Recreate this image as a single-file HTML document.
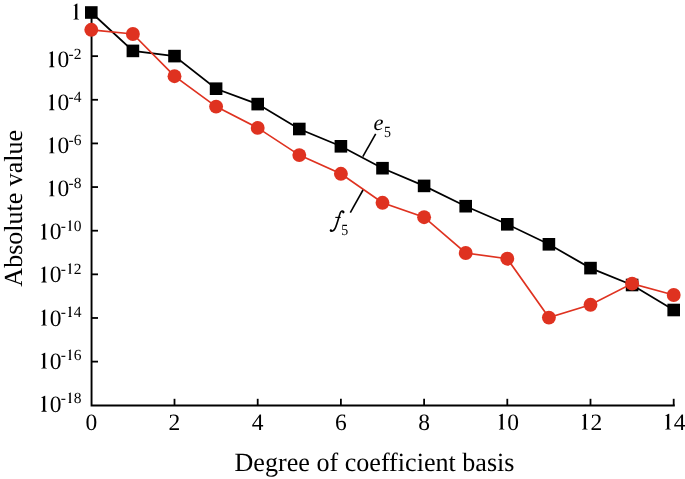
<!DOCTYPE html>
<html><head><meta charset="utf-8"><style>
html,body{margin:0;padding:0;background:#fff;}
svg{display:block;will-change:transform;}
text{font-family:"Liberation Serif",serif;fill:#000;font-variant-ligatures:none;text-rendering:geometricPrecision;}
.t{font-size:23.5px;}
.s{font-size:15.5px;}
.i{font-style:italic;font-size:22.5px;}
.a{font-size:26px;}
</style></head><body>
<svg width="685" height="479" viewBox="0 0 685 479">
<defs><path id="one" d="M7.3 -15.9L7.3 -1.6C7.3 -0.8 7.7 -0.55 8.8 -0.5L8.8 0L3.4 0L3.4 -0.5C4.5 -0.55 5 -0.8 5 -1.6L5 -13C5 -13.6 4.8 -13.9 4.4 -13.9C4.1 -13.9 3.8 -13.8 3.45 -13.7L3.35 -14.1L6.9 -15.9Z"/></defs>
<path d="M91.55 12.5V405.45H674.8" fill="none" stroke="#000" stroke-width="1.9"/>
<line x1="174.5" y1="405.45" x2="174.5" y2="398.8" stroke="#000" stroke-width="1.8"/>
<line x1="257.7" y1="405.45" x2="257.7" y2="398.8" stroke="#000" stroke-width="1.8"/>
<line x1="340.9" y1="405.45" x2="340.9" y2="398.8" stroke="#000" stroke-width="1.8"/>
<line x1="424.1" y1="405.45" x2="424.1" y2="398.8" stroke="#000" stroke-width="1.8"/>
<line x1="507.3" y1="405.45" x2="507.3" y2="398.8" stroke="#000" stroke-width="1.8"/>
<line x1="590.5" y1="405.45" x2="590.5" y2="398.8" stroke="#000" stroke-width="1.8"/>
<line x1="673.7" y1="405.45" x2="673.7" y2="398.8" stroke="#000" stroke-width="1.8"/>
<line x1="91.55" y1="56.14" x2="98" y2="56.14" stroke="#000" stroke-width="1.8"/>
<line x1="91.55" y1="99.78" x2="98" y2="99.78" stroke="#000" stroke-width="1.8"/>
<line x1="91.55" y1="143.42" x2="98" y2="143.42" stroke="#000" stroke-width="1.8"/>
<line x1="91.55" y1="187.06" x2="98" y2="187.06" stroke="#000" stroke-width="1.8"/>
<line x1="91.55" y1="230.70" x2="98" y2="230.70" stroke="#000" stroke-width="1.8"/>
<line x1="91.55" y1="274.34" x2="98" y2="274.34" stroke="#000" stroke-width="1.8"/>
<line x1="91.55" y1="317.98" x2="98" y2="317.98" stroke="#000" stroke-width="1.8"/>
<line x1="91.55" y1="361.62" x2="98" y2="361.62" stroke="#000" stroke-width="1.8"/>
<text x="85.42" y="429.60" class="t">0</text>
<text x="168.62" y="429.60" class="t">2</text>
<text x="251.82" y="429.60" class="t">4</text>
<text x="335.03" y="429.60" class="t">6</text>
<text x="418.23" y="429.60" class="t">8</text>
<use href="#one" x="495.55" y="429.60"/>
<text x="507.30" y="429.60" class="t">0</text>
<use href="#one" x="578.75" y="429.60"/>
<text x="590.50" y="429.60" class="t">2</text>
<use href="#one" x="661.95" y="429.60"/>
<text x="673.70" y="429.60" class="t">4</text>
<use href="#one" x="70.08" y="19.50"/>
<use href="#one" x="45.69" y="67.15"/>
<text x="57.44" y="67.15" class="t">0</text>
<text x="68.59" y="58.55" class="s">-</text>
<text x="73.75" y="58.55" class="s">2</text>
<use href="#one" x="45.69" y="110.21"/>
<text x="57.44" y="110.21" class="t">0</text>
<text x="68.59" y="101.61" class="s">-</text>
<text x="73.75" y="101.61" class="s">4</text>
<use href="#one" x="45.69" y="153.27"/>
<text x="57.44" y="153.27" class="t">0</text>
<text x="68.59" y="144.67" class="s">-</text>
<text x="73.75" y="144.67" class="s">6</text>
<use href="#one" x="45.69" y="196.33"/>
<text x="57.44" y="196.33" class="t">0</text>
<text x="68.59" y="187.73" class="s">-</text>
<text x="73.75" y="187.73" class="s">8</text>
<use href="#one" x="37.94" y="239.39"/>
<text x="49.69" y="239.39" class="t">0</text>
<text x="60.84" y="230.79" class="s">-</text>
<use href="#one" transform="translate(66.00,230.79) scale(0.6596)"/>
<text x="73.75" y="230.79" class="s">0</text>
<use href="#one" x="37.94" y="282.45"/>
<text x="49.69" y="282.45" class="t">0</text>
<text x="60.84" y="273.85" class="s">-</text>
<use href="#one" transform="translate(66.00,273.85) scale(0.6596)"/>
<text x="73.75" y="273.85" class="s">2</text>
<use href="#one" x="37.94" y="325.51"/>
<text x="49.69" y="325.51" class="t">0</text>
<text x="60.84" y="316.91" class="s">-</text>
<use href="#one" transform="translate(66.00,316.91) scale(0.6596)"/>
<text x="73.75" y="316.91" class="s">4</text>
<use href="#one" x="37.94" y="368.57"/>
<text x="49.69" y="368.57" class="t">0</text>
<text x="60.84" y="359.97" class="s">-</text>
<use href="#one" transform="translate(66.00,359.97) scale(0.6596)"/>
<text x="73.75" y="359.97" class="s">6</text>
<use href="#one" x="37.94" y="411.63"/>
<text x="49.69" y="411.63" class="t">0</text>
<text x="60.84" y="403.03" class="s">-</text>
<use href="#one" transform="translate(66.00,403.03) scale(0.6596)"/>
<text x="73.75" y="403.03" class="s">8</text>
<polyline points="91.3,12.5 132.9,50.9 174.5,56.1 216.1,88.7 257.7,104.1 299.3,129.0 340.9,146.3 382.5,168.2 424.1,185.9 465.7,206.2 507.3,224.3 548.9,244.3 590.5,268.1 632.1,285.0 673.7,310.0" fill="none" stroke="#000" stroke-width="1.75"/>
<rect x="85.00" y="6.20" width="12.6" height="12.6" fill="#000"/>
<rect x="126.60" y="44.60" width="12.6" height="12.6" fill="#000"/>
<rect x="168.20" y="49.80" width="12.6" height="12.6" fill="#000"/>
<rect x="209.80" y="82.40" width="12.6" height="12.6" fill="#000"/>
<rect x="251.40" y="97.80" width="12.6" height="12.6" fill="#000"/>
<rect x="293.00" y="122.70" width="12.6" height="12.6" fill="#000"/>
<rect x="334.60" y="140.00" width="12.6" height="12.6" fill="#000"/>
<rect x="376.20" y="161.90" width="12.6" height="12.6" fill="#000"/>
<rect x="417.80" y="179.60" width="12.6" height="12.6" fill="#000"/>
<rect x="459.40" y="199.90" width="12.6" height="12.6" fill="#000"/>
<rect x="501.00" y="218.00" width="12.6" height="12.6" fill="#000"/>
<rect x="542.60" y="238.00" width="12.6" height="12.6" fill="#000"/>
<rect x="584.20" y="261.80" width="12.6" height="12.6" fill="#000"/>
<rect x="625.80" y="278.70" width="12.6" height="12.6" fill="#000"/>
<rect x="667.40" y="303.70" width="12.6" height="12.6" fill="#000"/>
<polyline points="91.3,29.8 132.9,34 174.5,76.2 216.1,106.6 257.7,127.9 299.3,155.1 340.9,173.8 382.5,202.8 424.1,217.2 465.7,253.0 507.3,258.7 548.9,317.6 590.5,304.8 632.1,283.6 673.7,295" fill="none" stroke="#df3220" stroke-width="1.7"/>
<circle cx="91.3" cy="29.8" r="6.95" fill="#df3220"/>
<circle cx="132.9" cy="34" r="6.95" fill="#df3220"/>
<circle cx="174.5" cy="76.2" r="6.95" fill="#df3220"/>
<circle cx="216.1" cy="106.6" r="6.95" fill="#df3220"/>
<circle cx="257.7" cy="127.9" r="6.95" fill="#df3220"/>
<circle cx="299.3" cy="155.1" r="6.95" fill="#df3220"/>
<circle cx="340.9" cy="173.8" r="6.95" fill="#df3220"/>
<circle cx="382.5" cy="202.8" r="6.95" fill="#df3220"/>
<circle cx="424.1" cy="217.2" r="6.95" fill="#df3220"/>
<circle cx="465.7" cy="253.0" r="6.95" fill="#df3220"/>
<circle cx="507.3" cy="258.7" r="6.95" fill="#df3220"/>
<circle cx="548.9" cy="317.6" r="6.95" fill="#df3220"/>
<circle cx="590.5" cy="304.8" r="6.95" fill="#df3220"/>
<circle cx="632.1" cy="283.6" r="6.95" fill="#df3220"/>
<circle cx="673.7" cy="295" r="6.95" fill="#df3220"/>
<line x1="362.8" y1="156.7" x2="375.7" y2="133.8" stroke="#000" stroke-width="1.6"/>
<line x1="363" y1="190" x2="350.3" y2="212.6" stroke="#000" stroke-width="1.6"/>
<text x="373.50" y="129.80" class="i">e</text>
<text transform="translate(383.90,136.50) scale(0.9,1)" class="s">5</text>
<path d="M343.6 211.9C342.9 210.5 341.2 210.7 340.3 212.8C339 216 337.2 224 335.1 228.4C334 230.8 332 231.6 330.6 230.7" fill="none" stroke="#000" stroke-width="1.6" stroke-linecap="round"/>
<circle cx="343.3" cy="212.3" r="1.15" fill="#000"/><circle cx="330.9" cy="230.5" r="1.15" fill="#000"/>
<path d="M335.3 217.4H340.7" stroke="#000" stroke-width="1.1"/>
<text transform="translate(341.20,234.60) scale(0.9,1)" class="s">5</text>
<text transform="translate(374.50,471.30) scale(1.004,1.015)" text-anchor="middle" class="a">Degree of coefficient basis</text>
<text transform="translate(21.7,208.3) rotate(-90) scale(1,1.0)" text-anchor="middle" class="a">Absolute value</text>
</svg>
</body></html>
